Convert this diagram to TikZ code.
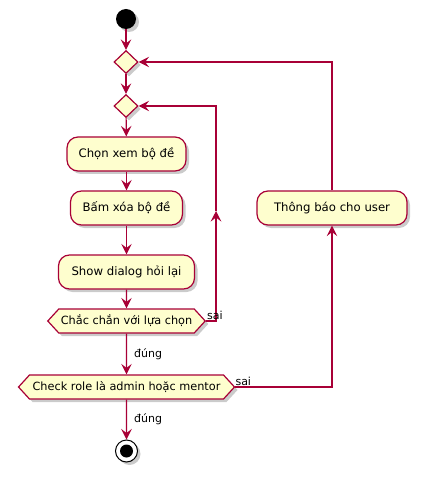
\documentclass[tikz,border=0pt]{standalone}
\usepackage{fontspec}
\setmainfont{DejaVu Sans}
\usetikzlibrary{shapes.geometric,shapes.symbols,shadows,arrows.meta}
\definecolor{pfill}{HTML}{FEFECE}
\definecolor{pline}{HTML}{A80036}
\begin{document}
\begin{tikzpicture}[x=1pt,y=-1pt,
 shad/.style={drop shadow={shadow xshift=3pt,shadow yshift=-3pt,fill=black!45,opacity=0.45}},
 act/.style={draw=pline,fill=pfill,line width=1.2pt,rounded corners=11pt,minimum height=34pt,inner xsep=6pt,font=\fontsize{11.7}{14}\selectfont,shad},
 dec/.style={draw=pline,fill=pfill,line width=1.2pt,diamond,minimum width=24pt,minimum height=23pt,inner sep=0pt,shad},
 hex/.style={draw=pline,fill=pfill,line width=1.2pt,signal,signal to=east and west,signal pointer angle=95,minimum height=24pt,inner xsep=2pt,inner ysep=0pt,font=\fontsize{11.3}{13}\selectfont,shad},
 conn/.style={pline,line width=1.2pt},
 arr/.style={conn,-{Stealth[length=10.5pt,width=10.5pt,inset=4pt]}},
 lab/.style={text=black,font=\fontsize{11}{13}\selectfont,inner sep=0pt}]
\useasboundingbox (0,0) rectangle (423,478);
\node[circle,fill=black,minimum size=20pt,inner sep=0pt,shad] (start) at (126,19) {};
\node[dec] (d1) at (126,62) {};
\node[dec] (d2) at (126,106) {};
\node[act,minimum width=119pt] (a1) at (126.5,154) {Chọn xem bộ đề};
\node[act,minimum width=112pt] (a2) at (126.5,208) {Bấm xóa bộ đề};
\node[act,minimum width=136pt] (a3) at (126.5,272) {Show dialog hỏi lại};
\node[hex,minimum width=155pt] (h1) at (126.5,321) {Chắc chắn với lựa chọn};
\node[hex,minimum width=216pt] (h2) at (126.5,387) {Check role là admin hoặc mentor};
\node[act,minimum width=150pt] (note) at (332,208) {Thông báo cho user};
\node[circle,draw=black,fill=white,line width=1pt,minimum size=22pt,inner sep=0pt,shad] (end) at (126.5,451) {};
\node[circle,fill=black,minimum size=13pt,inner sep=0pt] (endin) at (end.center) {};
\coordinate (m2) at (216,211);
\draw[arr] (start) -- (d1);
\draw[arr] (d1) -- (d2);
\draw[arr] (d2) -- (a1);
\draw[arr] (a1) -- (a2);
\draw[arr] (a2) -- (a3);
\draw[arr] (a3) -- (h1);
\draw[arr] (h1) -- node[lab,anchor=west,xshift=7pt] (l1) {đúng} (h2);
\draw[arr] (h2) -- node[lab,anchor=west,xshift=7pt] (l2) {đúng} (end);
\draw[arr] (h1.east) -| (m2);
\draw[arr] (m2) |- (d2.east);
\draw[arr] (h2.east) -| (note.south);
\draw[arr] (note.north) |- (d1.east);
\node[lab,anchor=south west] (s1) at ([xshift=1pt,yshift=1pt]h1.east) {sai};
\node[lab,anchor=south west] (s2) at ([xshift=0pt,yshift=1pt]h2.east) {sai};
\end{tikzpicture}
\end{document}
